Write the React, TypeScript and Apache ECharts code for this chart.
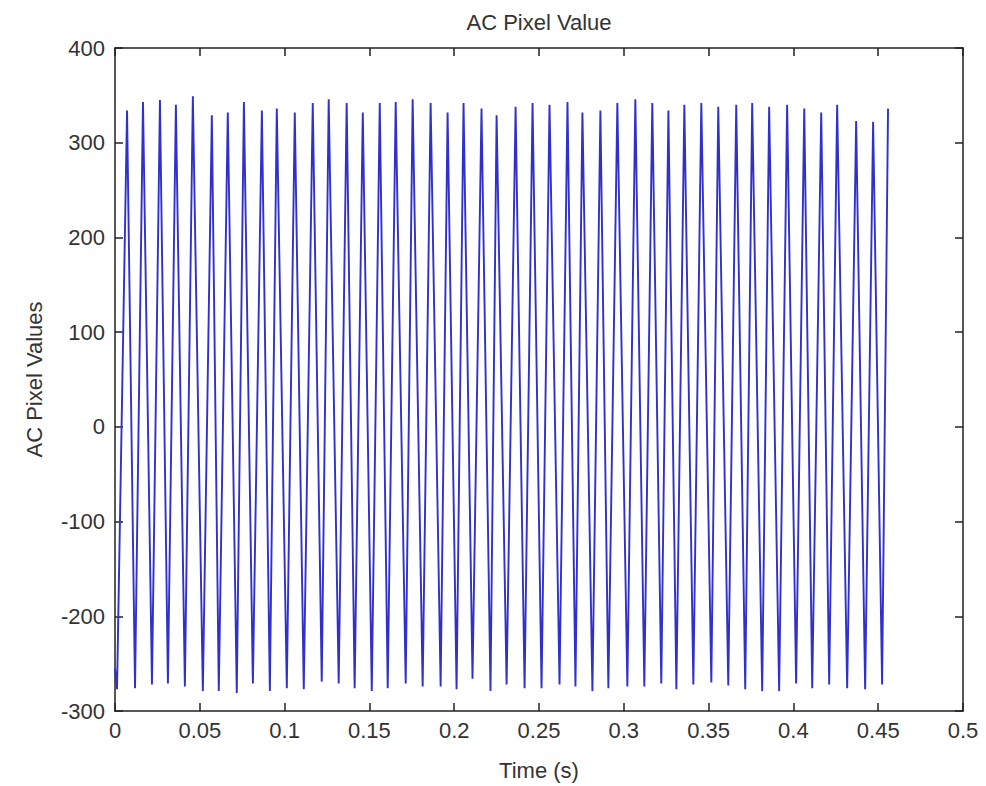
import React, { useEffect, useRef } from "react";
import * as echarts from "echarts";

// Start of the recording
const startTime = 0;
const startValue = -255;

// Trough (minimum) times in seconds and values
const troughTimes = [
  0.0012, 0.0118, 0.0218, 0.0312, 0.0412, 0.0518, 0.0612, 0.0718, 0.0813, 0.0913,
  0.1013, 0.1113, 0.1219, 0.1319, 0.1413, 0.1514, 0.1608, 0.1714, 0.1814, 0.192,
  0.2014, 0.2108, 0.2214, 0.2309, 0.2415, 0.2515, 0.2621, 0.2715, 0.2815, 0.2909,
  0.3021, 0.3121, 0.3221, 0.331, 0.341, 0.3516, 0.3616, 0.3716, 0.3816, 0.3916,
  0.4016, 0.4111, 0.4211, 0.4317, 0.4423, 0.4523,
];
const troughValues = [
  -277, -276, -272, -271, -274, -279, -279, -281, -271, -279,
  -276, -277, -269, -271, -276, -279, -276, -271, -274, -274,
  -277, -266, -279, -272, -276, -276, -272, -274, -279, -276,
  -274, -274, -271, -277, -272, -270, -273, -277, -279, -279,
  -271, -276, -272, -276, -277, -272,
];

// Peak (maximum) times in seconds and values
const peakTimes = [
  0.0071, 0.0165, 0.0265, 0.0359, 0.0459, 0.0571, 0.0665, 0.076, 0.0866, 0.0954,
  0.106, 0.1166, 0.126, 0.1366, 0.1461, 0.1561, 0.1655, 0.1755, 0.1861, 0.1961,
  0.2055, 0.2161, 0.225, 0.2362, 0.2462, 0.2562, 0.2668, 0.2756, 0.2862, 0.2962,
  0.3068, 0.3168, 0.3263, 0.3357, 0.3457, 0.3557, 0.3663, 0.3757, 0.3857, 0.3963,
  0.4064, 0.4164, 0.4258, 0.437, 0.447, 0.4558,
];
const peakValues = [
  334, 343, 345, 340, 349, 329, 332, 343, 334, 336,
  332, 342, 346, 342, 332, 342, 343, 346, 342, 332,
  342, 336, 329, 338, 342, 340, 343, 332, 334, 342,
  346, 342, 334, 340, 342, 338, 340, 342, 338, 340,
  336, 332, 340, 323, 322, 336,
];

const xTicks = { min: 0, max: 0.5, interval: 0.05 };
const yTicks = { min: -300, max: 400, interval: 100 };

const titleText = "AC Pixel Value";
const xLabel = "Time (s)";
const yLabel = "AC Pixel Values";

export default function App() {
  const ref = useRef<HTMLDivElement>(null);
  useEffect(() => {
    document.body.style.margin = "0";
    if (!ref.current) return;
    const chart = echarts.init(ref.current, undefined, { renderer: "svg" });

    const data: [number, number][] = [[startTime, startValue]];
    for (let i = 0; i < troughTimes.length; i++) {
      data.push([troughTimes[i], troughValues[i]]);
      data.push([peakTimes[i], peakValues[i]]);
    }

    const font = "'Liberation Sans', Arial, Helvetica, sans-serif";
    const axisColor = "#222";
    const labelStyle = { color: "#333", fontSize: 22, fontFamily: font };
    const fmt = (v: number) => String(Math.round(v * 1000) / 1000);

    chart.setOption({
      animation: false,
      backgroundColor: "#fff",
      grid: { left: 115, right: 23, top: 48, bottom: 71, containLabel: false },
      xAxis: [
        {
          type: "value",
          ...xTicks,
          position: "bottom",
          axisLine: { show: true, onZero: false, lineStyle: { color: axisColor, width: 1.5 } },
          axisTick: { show: true, inside: true, length: 8, lineStyle: { color: axisColor, width: 1.5 } },
          axisLabel: { ...labelStyle, margin: 8, formatter: fmt },
          splitLine: { show: false },
          name: xLabel,
          nameLocation: "middle",
          nameGap: 48,
          nameTextStyle: { ...labelStyle },
        },
        {
          type: "value",
          ...xTicks,
          position: "top",
          axisLine: { show: true, onZero: false, lineStyle: { color: axisColor, width: 1.5 } },
          axisTick: { show: true, inside: true, length: 8, lineStyle: { color: axisColor, width: 1.5 } },
          axisLabel: { show: false },
          splitLine: { show: false },
        },
      ],
      yAxis: [
        {
          type: "value",
          ...yTicks,
          position: "left",
          axisLine: { show: true, onZero: false, lineStyle: { color: axisColor, width: 1.5 } },
          axisTick: { show: true, inside: true, length: 8, lineStyle: { color: axisColor, width: 1.5 } },
          axisLabel: { ...labelStyle, margin: 10, formatter: fmt },
          splitLine: { show: false },
          name: yLabel,
          nameLocation: "middle",
          nameGap: 70,
          nameRotate: 90,
          nameTextStyle: { ...labelStyle },
        },
        {
          type: "value",
          ...yTicks,
          position: "right",
          axisLine: { show: true, onZero: false, lineStyle: { color: axisColor, width: 1.5 } },
          axisTick: { show: true, inside: true, length: 8, lineStyle: { color: axisColor, width: 1.5 } },
          axisLabel: { show: false },
          splitLine: { show: false },
        },
      ],
      graphic: [
        {
          type: "text",
          x: 539,
          y: 22,
          style: {
            text: titleText,
            fill: "#333",
            fontSize: 22,
            fontFamily: font,
            textAlign: "center",
            textVerticalAlign: "middle",
          },
        },
      ],
      series: [
        {
          type: "line",
          xAxisIndex: 0,
          yAxisIndex: 0,
          data,
          showSymbol: false,
          symbol: "none",
          lineStyle: { color: "#3030cc", width: 1.9 },
          silent: true,
        },
      ],
    });
    return () => chart.dispose();
  }, []);
  return <div ref={ref} style={{ width: 986, height: 786 }} />;
}
